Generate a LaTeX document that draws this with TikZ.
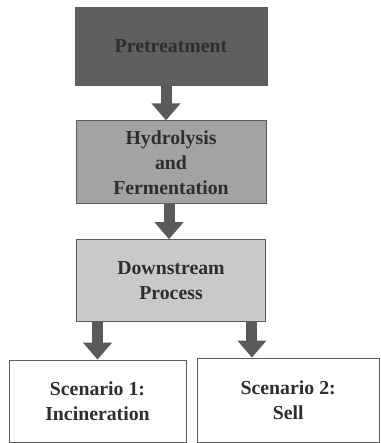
\documentclass[tikz,border=0pt]{standalone}
\usepackage{fontspec}
\setmainfont{Liberation Serif}
\usetikzlibrary{positioning, arrows.meta}
\definecolor{darkfill}{HTML}{5F5F5F}
\definecolor{midfill}{HTML}{A3A3A3}
\definecolor{lightfill}{HTML}{C9C9C9}
\definecolor{arrowgray}{HTML}{5A5A5A}
\definecolor{textgray}{HTML}{2E2E2E}
\definecolor{edgegray}{HTML}{5C5C5C}

\begin{document}
\begin{tikzpicture}[
    x=1pt, y=-1pt,
    node distance=35pt,
    every node/.style={
        draw=edgegray,
        line width=0.8pt,
        align=center,
        font=\fontsize{19.8}{25}\selectfont\bfseries,
        text=textgray,
        inner sep=0pt
    },
    blockarrow/.style={
        draw=arrowgray,
        line width=11pt,
        -{Triangle[width=28pt, length=17pt]}
    }
]
\useasboundingbox (0,0) rectangle (380,443);

% Block 1: pretreatment (top)
\node[fill=darkfill, minimum width=192pt, minimum height=78pt] (pre) at (171,46) {Pretreatment};

% Block 2: hydrolysis and fermentation
\node[fill=midfill, minimum width=190pt, minimum height=83pt, below=35pt of pre] (hyd)
    {Hydrolysis\\and\\Fermentation};

% Block 3: downstream
\node[fill=lightfill, minimum width=189pt, minimum height=82pt, below=35pt of hyd] (down)
    {Downstream\\Process};

% Scenarios (bottom row)
\node[fill=white, minimum width=177pt, minimum height=82pt] (sc1) at (97.5,401)
    {Scenario 1:\\Incineration};
\node[fill=white, minimum width=182pt, minimum height=84pt] (sc2) at (288.2,400)
    {Scenario 2:\\Sell};

% Arrows
\draw[blockarrow] ([xshift=-5pt]pre.south) -- ([xshift=-5pt]hyd.north);
\draw[blockarrow] ([xshift=-2pt]hyd.south) -- ([xshift=-2pt]down.north);
\draw[blockarrow] (sc1.north |- down.south) -- (sc1.north);
\draw[blockarrow] ([xshift=-14pt]down.south east) -- ([xshift=-14pt]down.south east |- sc2.north);

\end{tikzpicture}
\end{document}
